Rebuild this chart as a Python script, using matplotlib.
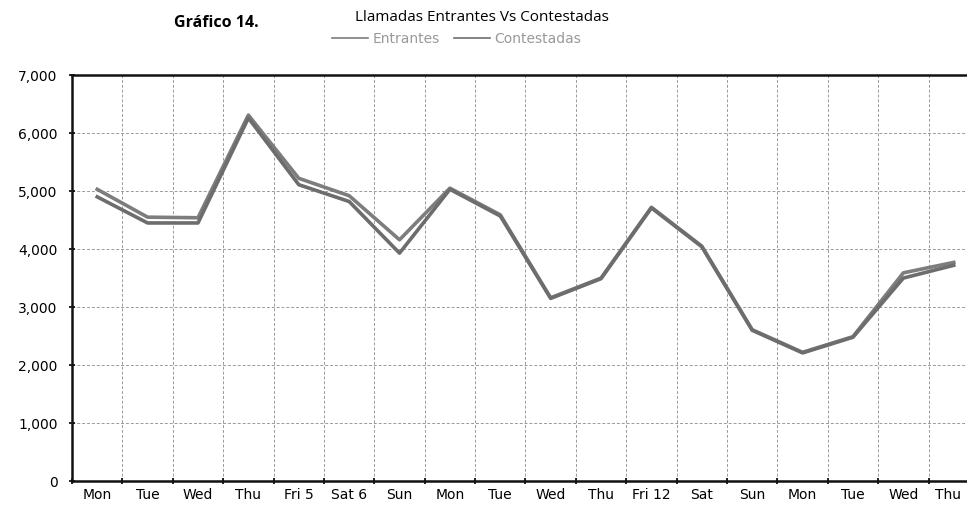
import numpy as np
import matplotlib.pyplot as plt
import matplotlib.transforms as mtransforms
from matplotlib.ticker import FuncFormatter, FixedLocator

dias = ['Mon', 'Tue', 'Wed', 'Thu', 'Fri 5', 'Sat 6', 'Sun', 'Mon', 'Tue',
        'Wed', 'Thu', 'Fri 12', 'Sat', 'Sun', 'Mon', 'Tue', 'Wed', 'Thu']
entrantes = [5030, 4550, 4540, 6310, 5220, 4920, 4160, 5050, 4590,
             3160, 3500, 4720, 4050, 2610, 2220, 2490, 3590, 3770]
contestadas = [4900, 4450, 4450, 6260, 5110, 4820, 3930, 5030, 4570,
               3150, 3490, 4710, 4040, 2600, 2210, 2480, 3500, 3720]

fig = plt.figure(figsize=(9.67, 5.14), dpi=100)
ax = fig.add_axes([0.0745, 0.064, 0.93, 0.79])

x = np.arange(len(dias))
ax.plot(x, entrantes, color='#7d7d7d', lw=2.6, label='Entrantes')
ax.plot(x, contestadas, color='#6d6d6d', lw=2.6, label='Contestadas')

ax.set_xlim(-0.5, 17.35)
ax.set_ylim(0, 7000)
ax.set_yticks(range(0, 7001, 1000))
ax.yaxis.set_major_formatter(FuncFormatter(lambda v, p: f'{int(v):,}'))

# ticks en los bordes de categoria, etiquetas en el centro
ax.xaxis.set_major_locator(FixedLocator(x - 0.5))
ax.xaxis.set_minor_locator(FixedLocator(x))
ax.set_xticklabels([])
ax.set_xticklabels(dias, minor=True)
ax.tick_params(axis='x', which='minor', length=0, labelsize=10, pad=5)
ax.tick_params(axis='x', which='major', length=4, width=1.2, direction='inout')
ax.tick_params(axis='y', length=5, width=1.2, labelsize=10, direction='inout', pad=8)

# la ultima etiqueta queda al borde: moverla un poco a la izquierda
last = ax.xaxis.get_minorticklabels()[-1]
last.set_transform(last.get_transform() +
                   mtransforms.ScaledTranslation(-6 / 100, 0, fig.dpi_scale_trans))

ax.grid(True, which='major', color='#9a9a9a', lw=0.7, ls=(0, (3, 2)))
for s in ['left', 'top', 'bottom']:
    ax.spines[s].set_linewidth(1.8)
    ax.spines[s].set_color('#111111')
ax.spines['right'].set_visible(False)

fig.text(0.18, 0.955, 'Gráfico 14.', fontsize=11.5, fontweight='bold',
         family='Open Sans', va='center')
fig.text(0.367, 0.965, 'Llamadas Entrantes Vs Contestadas', fontsize=11,
         family='Open Sans', va='center')
leg = fig.legend(loc='center', bbox_to_anchor=(0.472, 0.925), ncol=2,
                 frameon=False, fontsize=10, handlelength=2.6,
                 columnspacing=1.0, handletextpad=0.3)
for t in leg.get_texts():
    t.set_color('#999999')
for l in leg.get_lines():
    l.set_linewidth(1.2)

fig.savefig('out.png', dpi=100)
